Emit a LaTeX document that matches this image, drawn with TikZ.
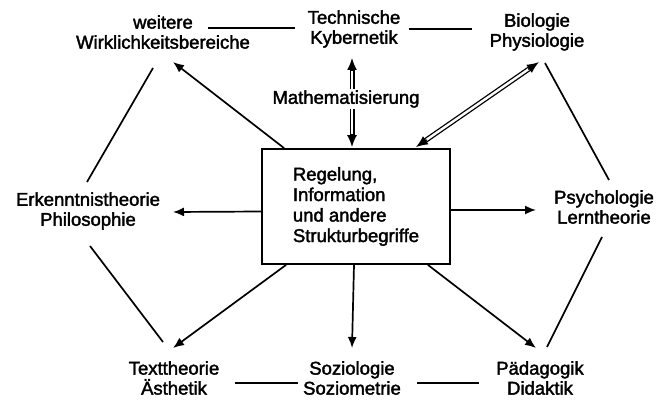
\documentclass[tikz,border=0pt]{standalone}
\usepackage{fontspec}
\setmainfont{Liberation Sans}
\newfontfamily\hv{Liberation Sans}[FakeBold=2]
\usetikzlibrary{arrows.meta,calc}
\begin{document}
\begin{tikzpicture}[x=1pt,y=-1pt,
  lbl/.style={align=center,inner sep=0pt,font=\hv\fontsize{18.5}{20}\selectfont},
  edge/.style={line width=1.7pt},
  arr/.style={line width=1.7pt,-{Latex[length=11pt,width=9pt]}},
  dbl/.style={line width=1.3pt,double,double distance=2.4pt,shorten <=8pt,shorten >=8pt},
  tip/.style={line width=1.7pt,-{Latex[length=12pt,width=10pt]}}]
\useasboundingbox (0,0) rectangle (659,401);
\node[lbl] (wr) at (163,32) {weitere\\Wirklichkeitsbereiche};
\node[lbl] (tk) at (354,29) {Technische\\Kybernetik};
\node[lbl] (bp) at (537,32) {Biologie\\Physiologie};
\node[lbl] (ep) at (88,211) {Erkenntnistheorie\\Philosophie};
\node[lbl] (pl) at (604,207) {Psychologie\\Lerntheorie};
\node[lbl] (ta) at (174,378) {Texttheorie\\Ästhetik};
\node[lbl] (ss) at (352,378) {Soziologie\\Soziometrie};
\node[lbl] (pd) at (540,378) {Pädagogik\\Didaktik};
\node[draw,line width=1.7pt,minimum width=188pt,minimum height=115pt,inner sep=0pt,
  font=\hv\fontsize{18.5}{20.5}\selectfont,align=left] (box) at (356,206.5)
  {Regelung,\\Information\\und andere\\Strukturbegriffe};
% hexagon edges
\draw[edge] ($(wr)+(45,-4)$) -- ($(tk)+(-59,-1)$);
\draw[edge] ($(tk)+(55,0)$) -- ($(bp)+(-65,-3)$);
\draw[edge] ($(wr)+(-10,36)$) -- ($(ep)+(-1,-29)$);
\draw[edge] ($(ep)+(2,35)$) -- ($(ta)+(-11,-36)$);
\draw[edge] ($(bp)+(8,31)$) -- ($(pl)+(5,-27)$);
\draw[edge] ($(pl)+(-2,30)$) -- ($(pd)+(7,-31)$);
\draw[edge] ($(ta)+(61,5)$) -- ($(ss)+(-54,5)$);
\draw[edge] ($(ss)+(65,5)$) -- ($(pd)+(-61,5)$);
% arrows from the box
\draw[arr] ($(box.north west)+(23,0)$) -- ($(wr)+(10,30)$);
\draw[arr] ($(box.west)+(0,5)$) -- ($(ep)+(85,1)$);
\draw[arr] ($(box.east)+(0,3.5)$) -- ($(pl)+(-68,3)$);
\draw[arr] ($(box.south west)+(25,0)$) -- ($(ta)+(-1,-30)$);
\draw[arr] ($(box.south)+(-2,0)$) -- ($(ss)+(0,-30)$);
\draw[arr] ($(box.south east)+(-23,0)$) -- ($(pd)+(-4,-30)$);
% double arrows
\coordinate (b1) at ($(box.north east)+(-35,-1)$);
\coordinate (b2) at ($(bp)+(2,30)$);
\draw[dbl] (b1) -- (b2);
\draw[tip] ($(b1)!13pt!(b2)$) -- (b1);
\draw[tip] ($(b2)!13pt!(b1)$) -- (b2);
\coordinate (t1) at ($(box.north)+(-4,-1)$);
\coordinate (t2) at ($(tk)+(-2,29)$);
\draw[dbl] (t1) -- (t2);
\draw[tip] ($(t1)!13pt!(t2)$) -- (t1);
\draw[tip] ($(t2)!13pt!(t1)$) -- (t2);
\node[lbl,fill=white,inner sep=1pt] (math) at (346,99) {Mathematisierung};
\end{tikzpicture}
\end{document}
